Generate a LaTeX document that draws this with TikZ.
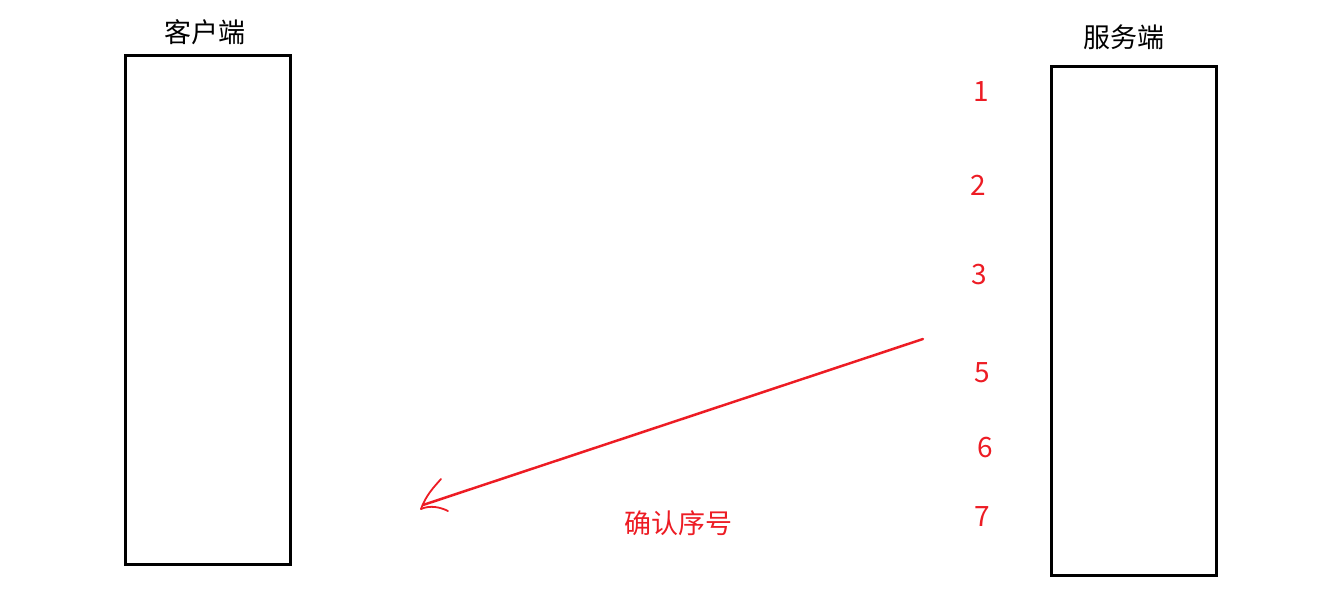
\documentclass[tikz,border=0pt]{standalone}
\usepackage{fontspec}
\setmainfont{Noto Sans CJK SC}
\definecolor{penred}{HTML}{ED1C24}
\begin{document}
\begin{tikzpicture}[x=1pt,y=-1pt,
  lane/.style={draw=black,line width=3pt,minimum width=165pt,minimum height=508pt,inner sep=0pt},
  title/.style={font=\fontsize{27}{30}\selectfont,text=black,inner sep=0pt},
  num/.style={font=\fontsize{28}{30}\selectfont,text=penred,inner sep=0pt},
  pen/.style={draw=penred,line width=2.5pt,line cap=round,line join=round}]
\useasboundingbox (0,0) rectangle (1318,591);
\node[lane] (client) at (207.5,310) {};
\node[lane] (server) at (1133.5,321) {};
\node[title] (clientlbl) at (205,32) {客户端};
\node[title] (serverlbl) at (1124,37) {服务端};
\node[num] (n1) at (981,92) {1};
\node[num] (n2) at (978,185) {2};
\node[num] (n3) at (979,275) {3};
\node[num] (n5) at (982,373) {5};
\node[num] (n6) at (985,448) {6};
\node[num] (n7) at (982,517) {7};
\node[num,font=\fontsize{27}{30}\selectfont] (ack) at (678,523) {确认序号};
\coordinate (start) at (923,339);
\coordinate (tip) at (421,509);
\coordinate (barbup) at (441,479);
\coordinate (barblow) at (448,511);
\draw[pen] (start) -- (423,505);
\draw[pen,line width=1.8pt] (tip) .. controls (426,495) and (434,487) .. (barbup);
\draw[pen,line width=1.8pt] (tip) .. controls (430,505) and (440,507) .. (barblow);
\end{tikzpicture}
\end{document}
